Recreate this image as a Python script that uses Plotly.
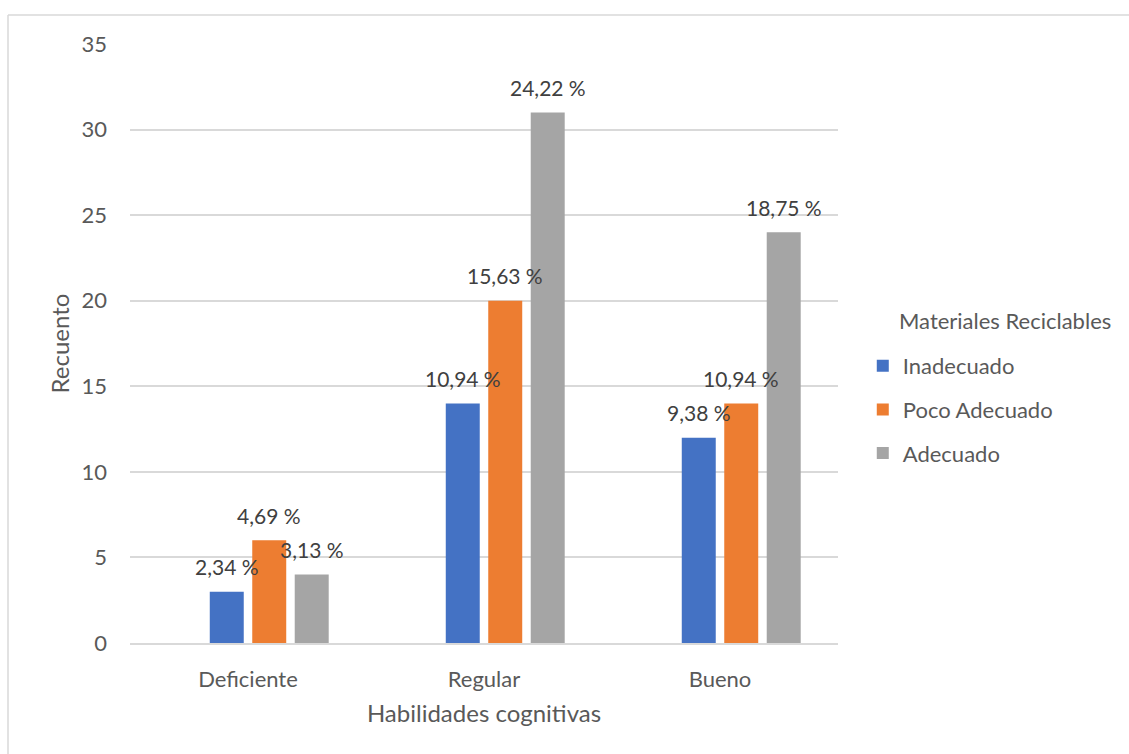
import plotly.graph_objects as go

categories = ["Deficiente", "Regular", "Bueno"]
series_names = ["Inadecuado", "Poco Adecuado", "Adecuado"]
inadecuado = [3, 14, 12]
poco_adecuado = [6, 20, 14]
adecuado = [4, 31, 24]
labels_inadecuado = ["2,34 %", "10,94 %", "9,38 %"]
labels_poco = ["4,69 %", "15,63 %", "10,94 %"]
labels_adecuado = ["3,13 %", "24,22 %", "18,75 %"]
y_ticks = [0, 5, 10, 15, 20, 25, 30, 35]

colors = ["#4472C4", "#ED7D31", "#A5A5A5"]
values = [inadecuado, poco_adecuado, adecuado]
labels = [labels_inadecuado, labels_poco, labels_adecuado]

FONT = "Lato, 'Open Sans', sans-serif"
TXT = "#595959"

# four slots per category (first slot empty, as in the source chart)
slot = 0.18
bar_w = slot * 0.8
xs = list(range(len(categories)))

W, H = 1129, 754
L, R, T, B = 130, 291, 44, 111
pw, ph = W - L - R, H - T - B

fig = go.Figure()
annotations = []
for i, (name, vals, col, labs) in enumerate(zip(series_names, values, colors, labels)):
    slot_idx = i + 1
    center_off = (slot_idx - 1.5) * slot
    fig.add_trace(go.Bar(
        x=xs, y=vals, name=name,
        marker=dict(color=col, line=dict(width=0)),
        width=bar_w, offset=center_off - bar_w / 2,
        legendgroup=name,
    ))
    for xi, v, t in zip(xs, vals, labs):
        annotations.append(dict(
            x=xi + center_off, y=v, text=t, showarrow=False,
            xref="x", yref="y", yanchor="middle", yshift=25,
            font=dict(family=FONT, size=21, color="#404040"),
        ))

# legend title as text
annotations.append(dict(
    x=(897 - L) / pw, y=(H - B - 320) / ph, xref="paper", yref="paper",
    xanchor="left", yanchor="middle", showarrow=False,
    text="Materiales Reciclables", font=dict(family=FONT, size=22, color=TXT),
))

bx = (8 - L) / pw
by = (H - B - 15) / ph
shapes = [
    dict(type="line", xref="paper", yref="paper", x0=bx, x1=bx, y0=-0.3, y1=by,
         line=dict(color="#D9D9D9", width=1.5)),
    dict(type="line", xref="paper", yref="paper", x0=bx, x1=1.6, y0=by, y1=by,
         line=dict(color="#D9D9D9", width=1.5)),
]

fig.update_layout(
    width=W, height=H,
    margin=dict(l=L, r=R, t=T, b=B),
    paper_bgcolor="white", plot_bgcolor="white",
    barmode="overlay",
    font=dict(family=FONT, size=22, color=TXT),
    annotations=annotations,
    shapes=shapes,
    showlegend=True,
    legend=dict(
        x=1.035, xanchor="left", y=(H - B - 345) / ph, yanchor="top",
        font=dict(size=22, color=TXT),
        traceorder="grouped", tracegroupgap=12,
        itemwidth=30,
    ),
    xaxis=dict(
        range=[-0.5, 2.5], tickmode="array", tickvals=xs, ticktext=categories,
        showgrid=False, showline=True, linecolor="#D9D9D9", linewidth=1.5,
        ticks="", tickfont=dict(size=22, color=TXT), ticklabelstandoff=16,
        title=dict(text="Habilidades cognitivas", font=dict(size=24, color=TXT), standoff=14),
        zeroline=False,
    ),
    yaxis=dict(
        range=[0, 35], tickmode="array", tickvals=y_ticks,
        showgrid=True, gridcolor="#D9D9D9", gridwidth=1.5,
        zeroline=False, showline=False, ticks="",
        tickfont=dict(size=22, color=TXT), ticklabelstandoff=22,
        title=dict(text="Recuento", font=dict(size=24, color=TXT), standoff=5),
    ),
)

fig.write_html("out.html")
